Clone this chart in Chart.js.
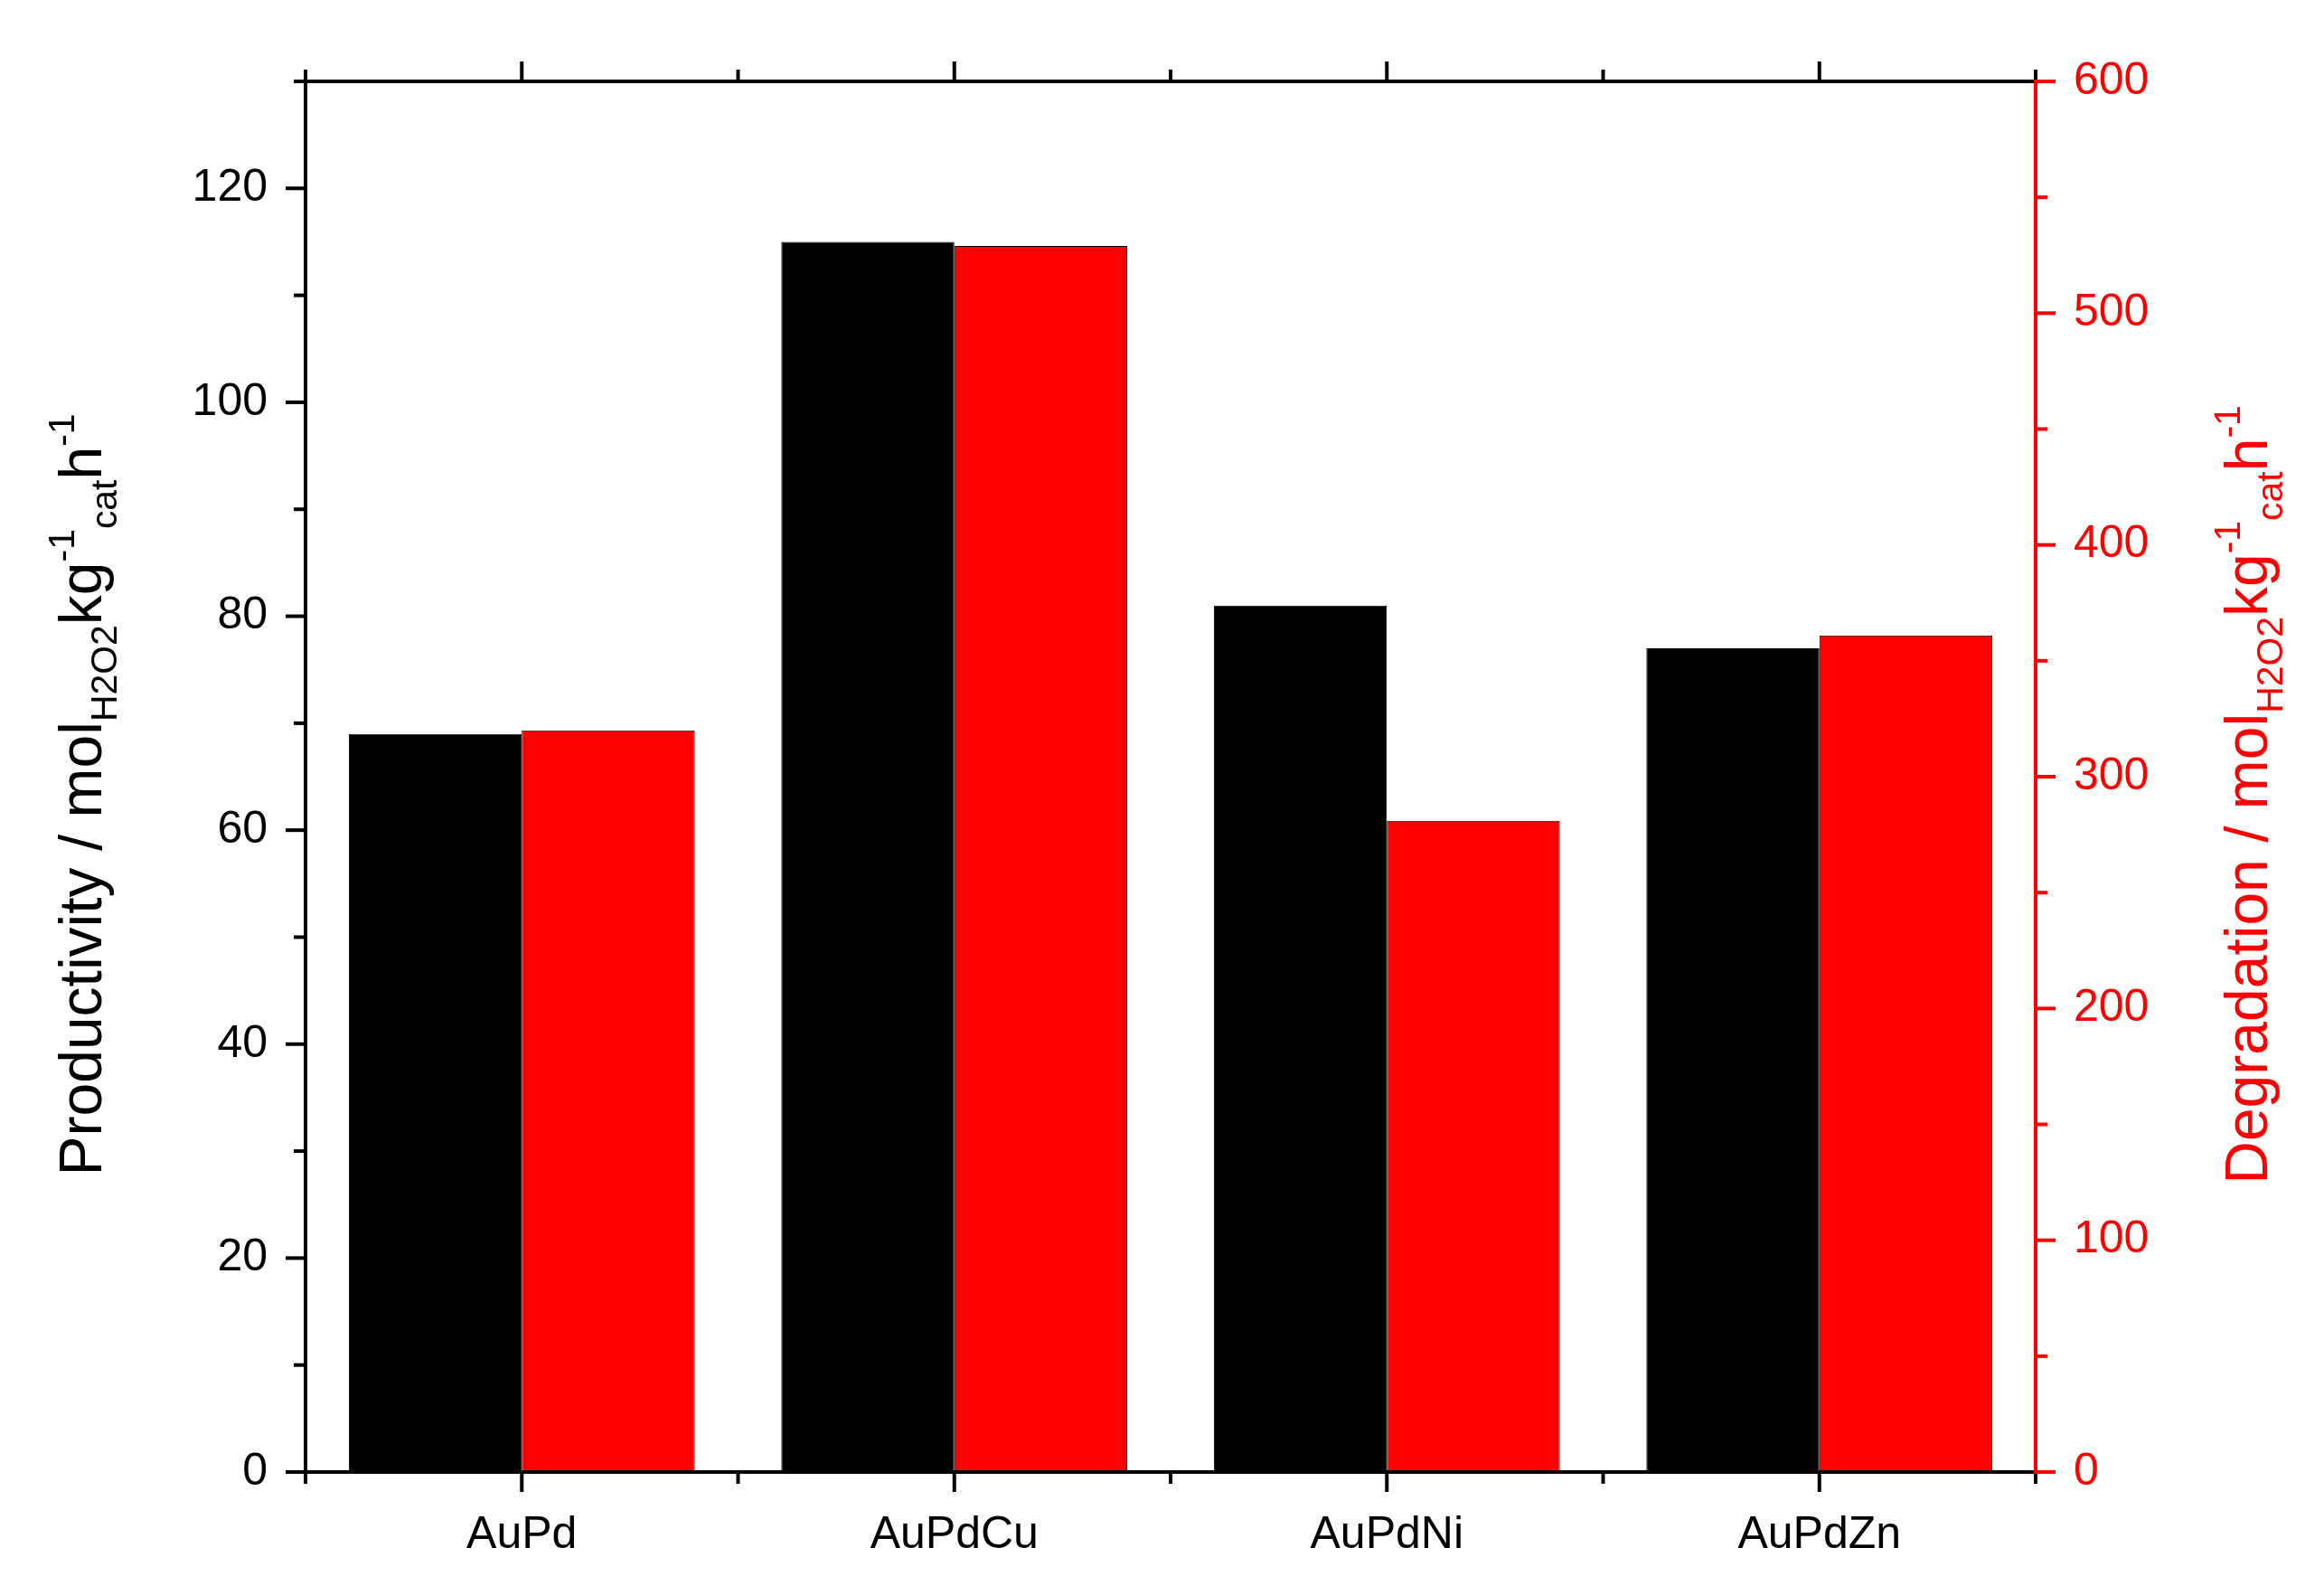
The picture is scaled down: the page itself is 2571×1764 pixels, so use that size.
<!DOCTYPE html>
<html>
<head>
<meta charset="utf-8">
<script src="https://cdn.jsdelivr.net/npm/chart.js@4"></script>
<style>
  html, body { margin: 0; padding: 0; background: #fff; }
  #wrap { width: 2571px; height: 1764px; }
</style>
</head>
<body>
<div id="wrap"><canvas id="c" width="2571" height="1764"></canvas></div>
<script>
const categories = ["AuPd", "AuPdCu", "AuPdNi", "AuPdZn"];
const productivity = [69, 115, 81, 77];
const degradation = [320, 529, 281, 361];
const leftTicks = [0, 20, 40, 60, 80, 100, 120];
const rightTicks = [0, 100, 200, 300, 400, 500, 600];

const FONT = "Arial, 'Liberation Sans', sans-serif";
const RED = '#ff0000';

function richText(ctx, parts, x, y, size, color) {
  // draw horizontally centred at (x, y) in current transform
  const pieces = parts.map(p => {
    const s = p.k ? size * 0.62 : size;
    ctx.font = `${s}px ${FONT}`;
    return { ...p, s, w: ctx.measureText(p.t).width };
  });
  const total = pieces.reduce((a, p) => a + p.w, 0);
  let cx = x - total / 2;
  ctx.fillStyle = color;
  ctx.textBaseline = 'alphabetic';
  ctx.textAlign = 'left';
  pieces.forEach(p => {
    ctx.font = `${p.s}px ${FONT}`;
    const dy = p.k === 'sub' ? size * 0.25 : p.k === 'sup' ? -size * 0.45 : 0;
    ctx.fillText(p.t, cx, y + dy);
    cx += p.w;
  });
}

function titleParts(word) {
  return [
    { t: word + " / mol" }, { t: "H2O2", k: 'sub' }, { t: "kg" },
    { t: "-1", k: 'sup' }, { t: "cat", k: 'sub' }, { t: "h" }, { t: "-1", k: 'sup' }
  ];
}

const axesPlugin = {
  id: 'axesPlugin',
  afterDraw(chart) {
    const { ctx, chartArea: a, scales } = chart;
    const yl = scales.y, yr = scales.y2, x = scales.x;
    ctx.save();
    ctx.lineWidth = 4;
    ctx.lineCap = 'square';
    // frame
    ctx.strokeStyle = '#000';
    ctx.beginPath();
    ctx.moveTo(a.left, a.top); ctx.lineTo(a.right, a.top);
    ctx.moveTo(a.left, a.bottom); ctx.lineTo(a.right, a.bottom);
    ctx.moveTo(a.left, a.top); ctx.lineTo(a.left, a.bottom);
    ctx.stroke();
    // left ticks
    for (let v = 0; v <= 130; v += 10) {
      const py = yl.getPixelForValue(v);
      const len = v % 20 === 0 ? 20 : 11;
      ctx.beginPath(); ctx.moveTo(a.left, py); ctx.lineTo(a.left - len, py); ctx.stroke();
    }
    // x ticks bottom and top
    const step = (a.right - a.left) / categories.length;
    for (let i = 0; i <= categories.length; i++) {
      const px = a.left + i * step;
      ctx.beginPath();
      ctx.moveTo(px, a.bottom); ctx.lineTo(px, a.bottom + 11);
      ctx.moveTo(px, a.top); ctx.lineTo(px, a.top - 11);
      ctx.stroke();
    }
    categories.forEach((c, i) => {
      const px = x.getPixelForValue(i);
      ctx.beginPath();
      ctx.moveTo(px, a.bottom); ctx.lineTo(px, a.bottom + 20);
      ctx.moveTo(px, a.top); ctx.lineTo(px, a.top - 20);
      ctx.stroke();
    });
    // right axis
    ctx.strokeStyle = RED;
    ctx.beginPath(); ctx.moveTo(a.right, a.top); ctx.lineTo(a.right, a.bottom); ctx.stroke();
    for (let v = 0; v <= 600; v += 50) {
      const py = yr.getPixelForValue(v);
      const len = v % 100 === 0 ? 20 : 11;
      ctx.beginPath(); ctx.moveTo(a.right, py); ctx.lineTo(a.right + len, py); ctx.stroke();
    }
    // titles
    const midY = (a.top + a.bottom) / 2;
    ctx.save();
    ctx.translate(112, midY + 20);
    ctx.rotate(-Math.PI / 2);
    richText(ctx, titleParts("Productivity"), 0, 0, 66, '#000');
    ctx.restore();
    ctx.save();
    ctx.translate(2508, midY + 20);
    ctx.rotate(-Math.PI / 2);
    richText(ctx, titleParts("Degradation"), 0, 0, 66, RED);
    ctx.restore();
    ctx.restore();
  }
};

new Chart(document.getElementById('c'), {
  type: 'bar',
  data: {
    labels: categories,
    datasets: [
      { data: productivity, yAxisID: 'y', backgroundColor: '#000', borderColor: '#000', borderWidth: 1 },
      { data: degradation, yAxisID: 'y2', backgroundColor: RED, borderColor: '#000', borderWidth: 1 }
    ]
  },
  options: {
    responsive: false,
    animation: false,
    devicePixelRatio: 1,
    categoryPercentage: 0.8,
    barPercentage: 1,
    layout: { padding: { top: 90, left: 0, right: 0, bottom: 0 } },
    plugins: { legend: { display: false }, tooltip: { enabled: false } },
    scales: {
      x: {
        grid: { display: false }, border: { display: false },
        ticks: { color: '#000', font: { size: 50, family: FONT }, padding: 32 },
        afterFit: (s) => { s.height = 136; }
      },
      y: {
        position: 'left', min: 0, max: 130,
        afterBuildTicks: (s) => { s.ticks = leftTicks.map(v => ({ value: v })); },
        grid: { display: false }, border: { display: false },
        ticks: { color: '#000', font: { size: 50, family: FONT }, padding: 34 },
        afterFit: (s) => { s.width = 338; }
      },
      y2: {
        position: 'right', min: 0, max: 600,
        afterBuildTicks: (s) => { s.ticks = rightTicks.map(v => ({ value: v })); },
        grid: { display: false }, border: { display: false },
        ticks: { color: RED, font: { size: 50, family: FONT }, padding: 34 },
        afterFit: (s) => { s.width = 319; }
      }
    }
  },
  plugins: [axesPlugin]
});
</script>
</body>
</html>
